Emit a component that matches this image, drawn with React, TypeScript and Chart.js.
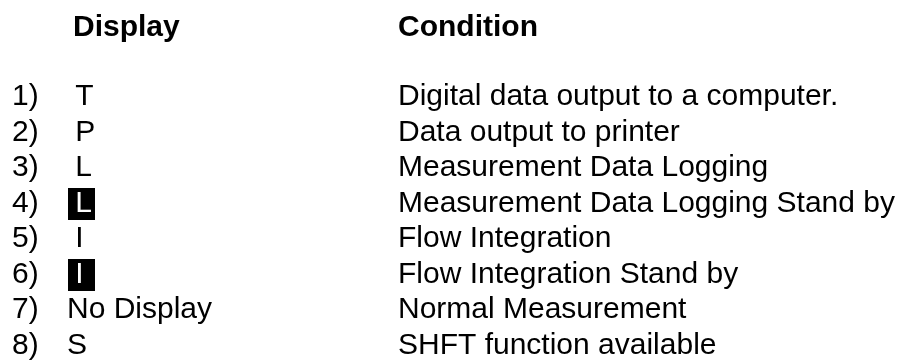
import React, { useEffect, useRef } from "react";
import { Chart, registerables } from "chart.js";

Chart.register(...registerables);

const HEADERS = ["Display", "Condition"];
const ROW_NUMBERS = ["1)", "2)", "3)", "4)", "5)", "6)", "7)", "8)"];
const DISPLAY_TEXT = [" T", " P", " L", " L", " I", " I", "No Display", "S"];
const DISPLAY_INVERTED = [false, false, false, true, false, true, false, false];
const CONDITIONS = [
  "Digital data output to a computer.",
  "Data output to printer",
  "Measurement Data Logging",
  "Measurement Data Logging Stand by",
  "Flow Integration",
  "Flow Integration Stand by",
  "Normal Measurement",
  "SHFT function available",
];

const FONT = '"Liberation Sans", Arial, Helvetica, sans-serif';
const COL_NUM_X = 12;
const COL_DISPLAY_X = 67;
const COL_COND_X = 398;
const HEADER_X = [73, 398];

const textPlugin = {
  id: "tableText",
  afterDatasetsDraw(chart: any) {
    const ctx = chart.ctx;
    ctx.save();
    ctx.textBaseline = "alphabetic";
    ctx.textAlign = "left";
    // headers
    ctx.font = `bold 30px ${FONT}`;
    ctx.fillStyle = "#000";
    const headerY = chart.chartArea.top - 69;
    HEADERS.forEach((h, i) => ctx.fillText(h, HEADER_X[i], headerY));
    ctx.font = `30px ${FONT}`;
    chart.data.datasets.forEach((ds: any, di: number) => {
      const meta = chart.getDatasetMeta(di);
      meta.data.forEach((el: any, i: number) => {
        const label = ds.texts[i];
        const inverted = ds.inverted ? ds.inverted[i] : false;
        if (inverted) {
          ctx.fillStyle = "#000";
          ctx.fillRect(Math.round(el.x) + 1, Math.round(el.y) - 24, 27, 32);
          ctx.fillStyle = "#fff";
          ctx.fillText(label, el.x, el.y);
        } else {
          ctx.fillStyle = "#000";
          ctx.fillText(label, el.x, el.y);
        }
      });
    });
    ctx.restore();
  },
};

export default function App() {
  const ref = useRef<HTMLCanvasElement | null>(null);
  useEffect(() => {
    if (!ref.current) return;
    const mk = (col: number) => ROW_NUMBERS.map((_, i) => ({ x: col, y: i + 1 }));
    const chart = new Chart(ref.current, {
      type: "scatter",
      data: {
        datasets: [
          { label: "No.", data: mk(COL_NUM_X), texts: ROW_NUMBERS, pointRadius: 0 } as any,
          { label: "Display", data: mk(COL_DISPLAY_X), texts: DISPLAY_TEXT, inverted: DISPLAY_INVERTED, pointRadius: 0 } as any,
          { label: "Condition", data: mk(COL_COND_X), texts: CONDITIONS, pointRadius: 0 } as any,
        ],
      },
      options: {
        animation: false,
        responsive: false,
        devicePixelRatio: 1,
        layout: { padding: { top: 105, bottom: 6, left: 0, right: 0 } },
        plugins: { legend: { display: false }, tooltip: { enabled: false }, title: { display: false } },
        events: [],
        scales: {
          x: { type: "linear", min: 0, max: 904, display: false },
          y: { type: "linear", min: 1, max: 8, reverse: true, display: false },
        },
      },
      plugins: [textPlugin],
    });
    return () => chart.destroy();
  }, []);
  return (
    <div style={{ position: "absolute", left: 0, top: 0, width: 904, height: 360, background: "#fff" }}>
      <canvas ref={ref} width={904} height={360} style={{ width: 904, height: 360 }} />
    </div>
  );
}
